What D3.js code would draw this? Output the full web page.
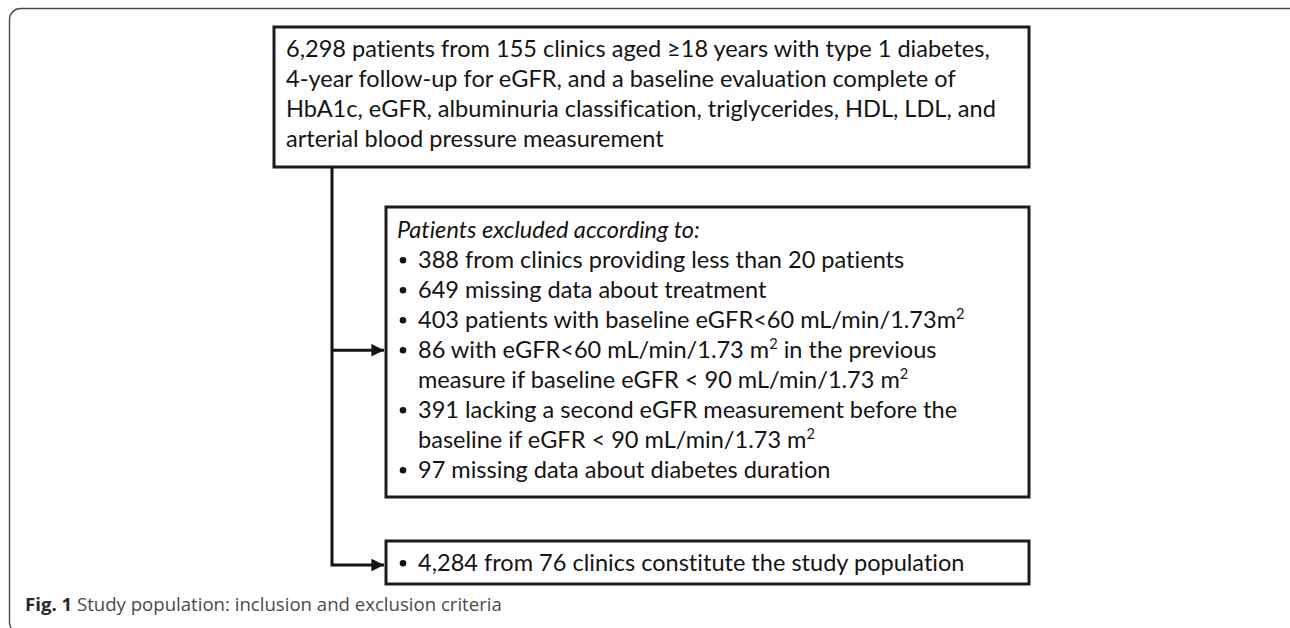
<!DOCTYPE html>
<html><head><meta charset="utf-8">
<script src="https://cdn.jsdelivr.net/npm/d3@7"></script>
<style>html,body{margin:0;padding:0;background:#fff;}svg{display:block;}text{font-variant-ligatures:none;font-feature-settings:"liga" 0;}</style>
</head><body>
<script>
// ---- content ----
const topLines = [
  "6,298 patients from 155 clinics aged \u226518 years with type 1 diabetes,",
  "4-year follow-up for eGFR, and a baseline evaluation complete of",
  "HbA1c, eGFR, albuminuria classification, triglycerides, HDL, LDL, and",
  "arterial blood pressure measurement"
];
const excludedTitle = "Patients excluded according to:";
const excludedCounts = [388, 649, 403, 86, 391, 97];
const excludedReasons = [
  ["from clinics providing less than 20 patients"],
  ["missing data about treatment"],
  ["patients with baseline eGFR<60 mL/min/1.73m^2"],
  ["with eGFR<60 mL/min/1.73 m^2 in the previous", "measure if baseline eGFR < 90 mL/min/1.73 m^2"],
  ["lacking a second eGFR measurement before the", "baseline if eGFR < 90 mL/min/1.73 m^2"],
  ["missing data about diabetes duration"]
];
const finalCount = "4,284";
const finalText = "from 76 clinics constitute the study population";
const captionLabel = "Fig. 1";
const captionText = "Study population: inclusion and exclusion criteria";

// ---- drawing ----
const W = 1290, H = 628;
const svg = d3.select("body").append("svg").attr("width", W).attr("height", H);
const FONT = "Lato, 'Open Sans', sans-serif";

svg.append("rect").attr("x", 9.5).attr("y", 8.5).attr("width", 1292).attr("height", 625)
  .attr("rx", 11).attr("fill", "none").attr("stroke", "#4a4a4a").attr("stroke-width", 1.4);

// fit font size to measured width of first line
const probe = svg.append("text").attr("font-family", FONT).attr("font-size", 20).text(topLines[0]);
const w20 = probe.node().getComputedTextLength();
probe.remove();
const FS = 20 * 704 / w20;

function addText(g, x, y, str, opts = {}) {
  const t = g.append("text").attr("x", x).attr("y", y)
    .attr("font-family", FONT).attr("font-size", FS).attr("fill", "#141414");
  if (opts.italic) t.attr("font-style", "italic");
  const parts = str.split("^2");
  const up = FS * 0.38;
  parts.forEach((p, i) => {
    const s = t.append("tspan").text(p);
    if (i > 0) s.attr("dy", up);
    if (i < parts.length - 1) {
      t.append("tspan").attr("dy", -up).attr("font-size", FS * 0.62).text("2");
    }
  });
  return t;
}

const boxStroke = "#1c1c1c", bw = 3;
function box(x0, y0, x1, y1) {
  svg.append("rect").attr("x", x0).attr("y", y0).attr("width", x1 - x0).attr("height", y1 - y0)
    .attr("fill", "none").attr("stroke", boxStroke).attr("stroke-width", bw);
}

// top box
box(274, 27, 1029, 167);
const gTop = svg.append("g");
topLines.forEach((l, i) => addText(gTop, 286, 57 + i * 30, l));

// middle box
box(386, 207, 1029, 497);
const gMid = svg.append("g");
addText(gMid, 397, 238, excludedTitle, {italic: true});
let row = 1;
const bulletRows = [];
excludedCounts.forEach((c, k) => {
  excludedReasons[k].forEach((line, j) => {
    const y = 238 + row * 30;
    if (j === 0) {
      gMid.append("circle").attr("cx", 403).attr("cy", y - FS * 0.33).attr("r", FS * 0.14).attr("fill", "#141414");
      addText(gMid, 418, y, c + " " + line);
      bulletRows.push(y);
    } else {
      addText(gMid, 418, y, line);
    }
    row++;
  });
});

// bottom box
box(386, 541, 1029, 584);
const gBot = svg.append("g");
gBot.append("circle").attr("cx", 403).attr("cy", 571 - FS * 0.33).attr("r", FS * 0.14).attr("fill", "#141414");
addText(gBot, 418, 571, finalCount + " " + finalText);

// connectors
const defs = svg.append("defs");
defs.append("marker").attr("id", "ah").attr("viewBox", "0 0 10 10").attr("refX", 10).attr("refY", 5)
  .attr("markerWidth", 4.2).attr("markerHeight", 4.2).attr("markerUnits", "strokeWidth").attr("orient", "auto")
  .append("path").attr("d", "M0,0 L10,5 L0,10 z").attr("fill", "#141414");
const line = d3.line();
const arrowY1 = bulletRows[3] - FS * 0.33;
const arrowY2 = 565;
svg.append("path").attr("d", line([[332, 167], [332, arrowY2], [384, arrowY2]]))
  .attr("fill", "none").attr("stroke", "#141414").attr("stroke-width", 3).attr("marker-end", "url(#ah)");
svg.append("path").attr("d", line([[332, arrowY1], [384, arrowY1]]))
  .attr("fill", "none").attr("stroke", "#141414").attr("stroke-width", 3).attr("marker-end", "url(#ah)");

// caption
const cap = svg.append("text").attr("x", 25).attr("y", 611)
  .attr("font-family", "'Open Sans', 'Noto Sans', sans-serif").attr("font-size", 17).attr("fill", "#4a4a4a");
cap.append("tspan").attr("font-weight", "bold").attr("fill", "#2a2a2a").text(captionLabel);
cap.append("tspan").text(" " + captionText);
const cw = cap.node().getComputedTextLength();
cap.attr("font-size", 17 * 477 / cw);
</script>
</body></html>
